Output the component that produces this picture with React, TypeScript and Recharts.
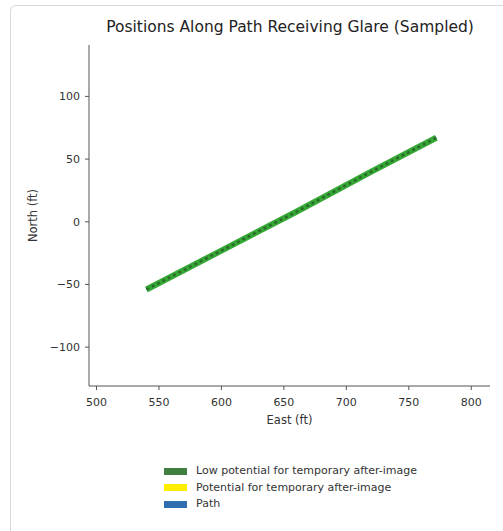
import React from "react";
import { LineChart, Line, XAxis, YAxis } from "recharts";

const eastFt = [540, 600, 660, 720, 772];
const northFt = [-54, -23, 8, 40, 67];
const xTicks = [500, 550, 600, 650, 700, 750, 800];
const yTicks = [-100, -50, 0, 50, 100];
const legendLabels = [
  "Low potential for temporary after-image",
  "Potential for temporary after-image",
  "Path",
];
const legendColors = ["#3f7f3f", "#ffee00", "#2f6db0"];

const data = eastFt.map((e, i) => ({ east: e, north: northFt[i] }));

const font = "'DejaVu Sans', sans-serif";
const fmt = (v: number) => (v < 0 ? "\u2212" + Math.abs(v) : String(v));

export default function App() {
  return (
    <div style={{ position: "absolute", left: 0, top: 0, width: 503, height: 531, background: "#fff", fontFamily: font, overflow: "hidden" }}>
      <div style={{ position: "absolute", left: 10, top: 5, width: 520, height: 560, border: "1px solid #d8d8d8", borderRadius: 6 }} />
      <div style={{ position: "absolute", left: 0, top: 18, width: 580, textAlign: "center", fontSize: 15.5, color: "#222" }}>
        Positions Along Path Receiving Glare (Sampled)
      </div>
      <div style={{ position: "absolute", left: 0, top: 0 }}>
        <LineChart width={503} height={531} data={data} margin={{ top: 45, right: 13, left: 29, bottom: 115 }}>
          <XAxis
            dataKey="east"
            type="number"
            domain={[494, 815]}
            ticks={xTicks}
            allowDataOverflow
            height={30}
            stroke="#555"
            tick={{ fill: "#333", fontSize: 11, fontFamily: font, dy: 6 }}
            tickFormatter={fmt}
            tickSize={4}
            tickLine={{ stroke: "#555" }}
            label={{ value: "East (ft)", position: "insideBottom", offset: -8, fill: "#333", fontSize: 11.5, fontFamily: font }}
          />
          <YAxis
            dataKey="north"
            type="number"
            domain={[-131, 141]}
            ticks={yTicks}
            allowDataOverflow
            width={60}
            stroke="#555"
            tick={{ fill: "#333", fontSize: 11, fontFamily: font, dx: -3 }}
            tickFormatter={fmt}
            tickSize={4}
            tickLine={{ stroke: "#555" }}
            label={{ value: "North (ft)", angle: -90, position: "insideLeft", offset: 0, dx: 4, fill: "#333", fontSize: 11.5, fontFamily: font, style: { textAnchor: "middle" } }}
          />
          <Line dataKey="north" stroke="#2f6db0" strokeWidth={4} dot={false} isAnimationActive={false} />
          <Line dataKey="north" stroke="#35a835" strokeWidth={6} dot={false} isAnimationActive={false} />
          <Line dataKey="north" stroke="#2a6a2a" strokeWidth={2.5} strokeDasharray="3 3" dot={false} isAnimationActive={false} />
        </LineChart>
      </div>
      <div style={{ position: "absolute", left: 164, top: 463, fontSize: 11, color: "#333", lineHeight: "16.5px" }}>
        {legendLabels.map((l, i) => (
          <div key={l} style={{ display: "flex", alignItems: "center" }}>
            <span style={{ display: "inline-block", width: 23, height: 7, background: legendColors[i], marginRight: 9 }} />
            <span>{l}</span>
          </div>
        ))}
      </div>
    </div>
  );
}
